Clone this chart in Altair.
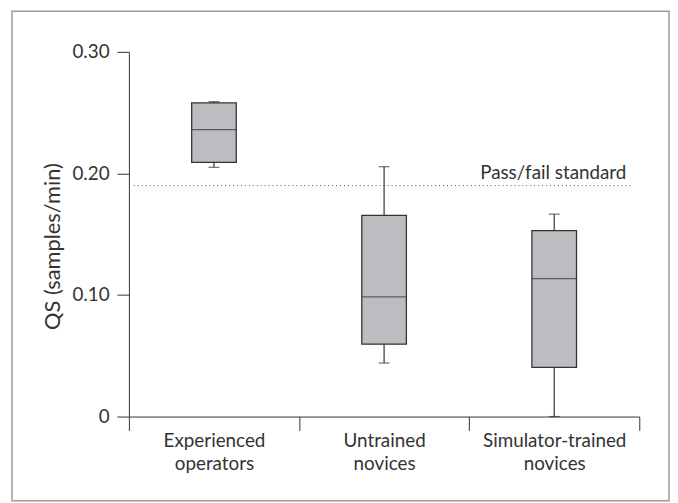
import altair as alt
import pandas as pd

# ---- data ----
groups = ["Experienced operators", "Untrained novices", "Simulator-trained novices"]
mins = [0.205, 0.044, 0.0]
q1s = [0.209, 0.0595, 0.0405]
medians = [0.236, 0.0985, 0.1135]
q3s = [0.258, 0.1655, 0.153]
maxs = [0.259, 0.2055, 0.1665]
pass_fail = [0.19]
pass_fail_label = "Pass/fail standard"
y_ticks = [0, 0.1, 0.2, 0.3]
y_title = "QS (samples/min)"

df = pd.DataFrame({"group": groups, "lo": mins, "q1": q1s, "med": medians,
                   "q3": q3s, "hi": maxs})
ref = pd.DataFrame({"v": pass_fail})

FONT = "Lato"
INK = "#333333"
FILL = "#bcbdc1"
BOX_W = 45
CAP_W = 11

yscale = alt.Scale(domain=[0, 0.3], nice=False, zero=True)
yaxis = alt.Axis(values=y_ticks, title=y_title,
                 labelExpr="datum.value == 0 ? '0' : format(datum.value, '.2f')",
                 tickSize=12, labelPadding=8, labelFontSize=19, labelColor=INK,
                 titleFontSize=22, titleColor=INK, titleFontWeight="normal",
                 titleAngle=270, titleX=-77, titleY=196, titleAlign="center",
                 titleBaseline="middle",
                 domainColor=INK, tickColor=INK, grid=False)

xenc = alt.X("group:N", sort=groups,
             scale=alt.Scale(domain=groups, paddingInner=0, paddingOuter=0),
             axis=alt.Axis(title=None, labelAngle=0, tickBand="extent",
                           labelExpr="split(datum.label, ' ')",
                           tickSize=14, labelPadding=1, labelLineHeight=23,
                           labelFontSize=19, labelColor=INK, labelBaseline="top",
                           domainColor=INK, tickColor=INK, grid=False))

base = alt.Chart(df)

whisk = base.mark_rule(color=INK, strokeWidth=1.2).encode(
    x=xenc,
    y=alt.Y("lo:Q", scale=yscale, axis=yaxis),
    y2="hi:Q")

box = base.mark_bar(size=BOX_W, fill=FILL, stroke=INK, strokeWidth=1.3).encode(
    x=xenc,
    y=alt.Y("q1:Q", scale=yscale, axis=yaxis),
    y2="q3:Q")

med = base.mark_tick(size=BOX_W, thickness=1.3, color=INK).encode(
    x=xenc, y=alt.Y("med:Q", scale=yscale, axis=yaxis))

cap_lo = base.mark_tick(size=CAP_W, thickness=1.2, color=INK).encode(
    x=xenc, y=alt.Y("lo:Q", scale=yscale, axis=yaxis))

cap_hi = base.mark_tick(size=CAP_W, thickness=1.2, color=INK).encode(
    x=xenc, y=alt.Y("hi:Q", scale=yscale, axis=yaxis))

line = alt.Chart(ref).mark_rule(strokeDash=[1, 3], color="#555555",
                                strokeWidth=1).encode(
    y=alt.Y("v:Q", scale=yscale, axis=yaxis),
    x=alt.value(5), x2=alt.value(507))

label = alt.Chart(ref).mark_text(align="right", baseline="alphabetic", dy=-7,
                                 font=FONT, fontSize=19, color=INK).encode(
    y=alt.Y("v:Q", scale=yscale, axis=yaxis),
    x=alt.value(502), text=alt.value(pass_fail_label))

frame = alt.Chart(ref).mark_rect(filled=False, stroke="#9a9a9a",
                                 strokeWidth=1.5).encode(
    x=alt.value(-118), x2=alt.value(545),
    y=alt.value(-41), y2=alt.value(453))

chart = alt.layer(frame, line, label, whisk, box, med, cap_lo, cap_hi).properties(
    width=515, height=368,
    autosize=alt.AutoSizeParams(type="none"),
    padding={"left": 122, "top": 42, "right": 31, "bottom": 86},
    background="white",
).configure_view(stroke=None).configure_axis(
    labelFont=FONT, titleFont=FONT
)

chart.save("out.html", embed_options={"renderer": "svg", "actions": False})
